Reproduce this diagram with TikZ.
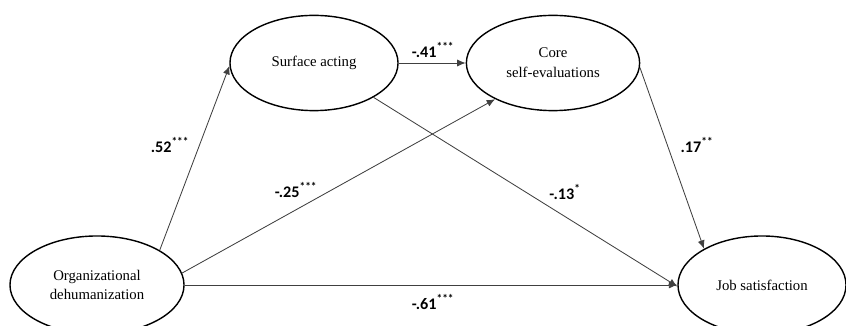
\documentclass[tikz,border=0pt]{standalone}
\usepackage{fontspec}
\setmainfont{Liberation Serif}
\newfontfamily\coeffont{Carlito}
\usepackage{tikz}
\usetikzlibrary{shapes.geometric, arrows.meta, positioning}

\begin{document}
\begin{tikzpicture}[x=0.025cm, y=-0.025cm,
        construct/.style={ellipse, draw=black, line width=1pt, align=center,
            font=\fontsize{10.5}{14}\selectfont, inner sep=0pt},
        path/.style={draw=black!75, line width=0.6pt, -{Latex[length=6pt,width=5pt]}},
        coef/.style={font=\coeffont\bfseries\fontsize{11.5}{13}\selectfont}]
        % --- Canvas ---
        \clip (0,0) rectangle (846,326);

        % --- Constructs ---
        \node[construct, minimum width=4.35cm, minimum height=2.45cm] (od) at (97,285) {Organizational\\dehumanization};
        \node[construct, minimum width=4.2cm, minimum height=2.38cm] (sa) at (314,63) {Surface acting};
        \node[construct, minimum width=4.33cm, minimum height=2.38cm] (cse) at (553,63) {Core\\self-evaluations};
        \node[construct, minimum width=4.2cm, minimum height=2.45cm] (js) at (762,285) {Job satisfaction};

        % --- Paths ---
        \draw[path] (od.29) -- (sa.182);
        \draw[path] (sa.east) -- (cse.west);
        \draw[path] (od.8) -- (cse.212);
        \draw[path] (sa.-30) -- (js.181);
        \draw[path] (cse.-3) -- (js.148);
        \draw[path] (od.east) -- (js.west);

        % --- Coefficients ---
        \node[coef] (c1) at (170,145) {.52\textsuperscript{***}};
        \node[coef] (c2) at (433,50) {-.41\textsuperscript{***}};
        \node[coef] (c3) at (296,190) {-.25\textsuperscript{***}};
        \node[coef] (c4) at (565,192) {-.13\textsuperscript{*}};
        \node[coef] (c5) at (697,145) {.17\textsuperscript{**}};
        \node[coef] (c6) at (433,302) {-.61\textsuperscript{***}};
    \end{tikzpicture}
\end{document}
